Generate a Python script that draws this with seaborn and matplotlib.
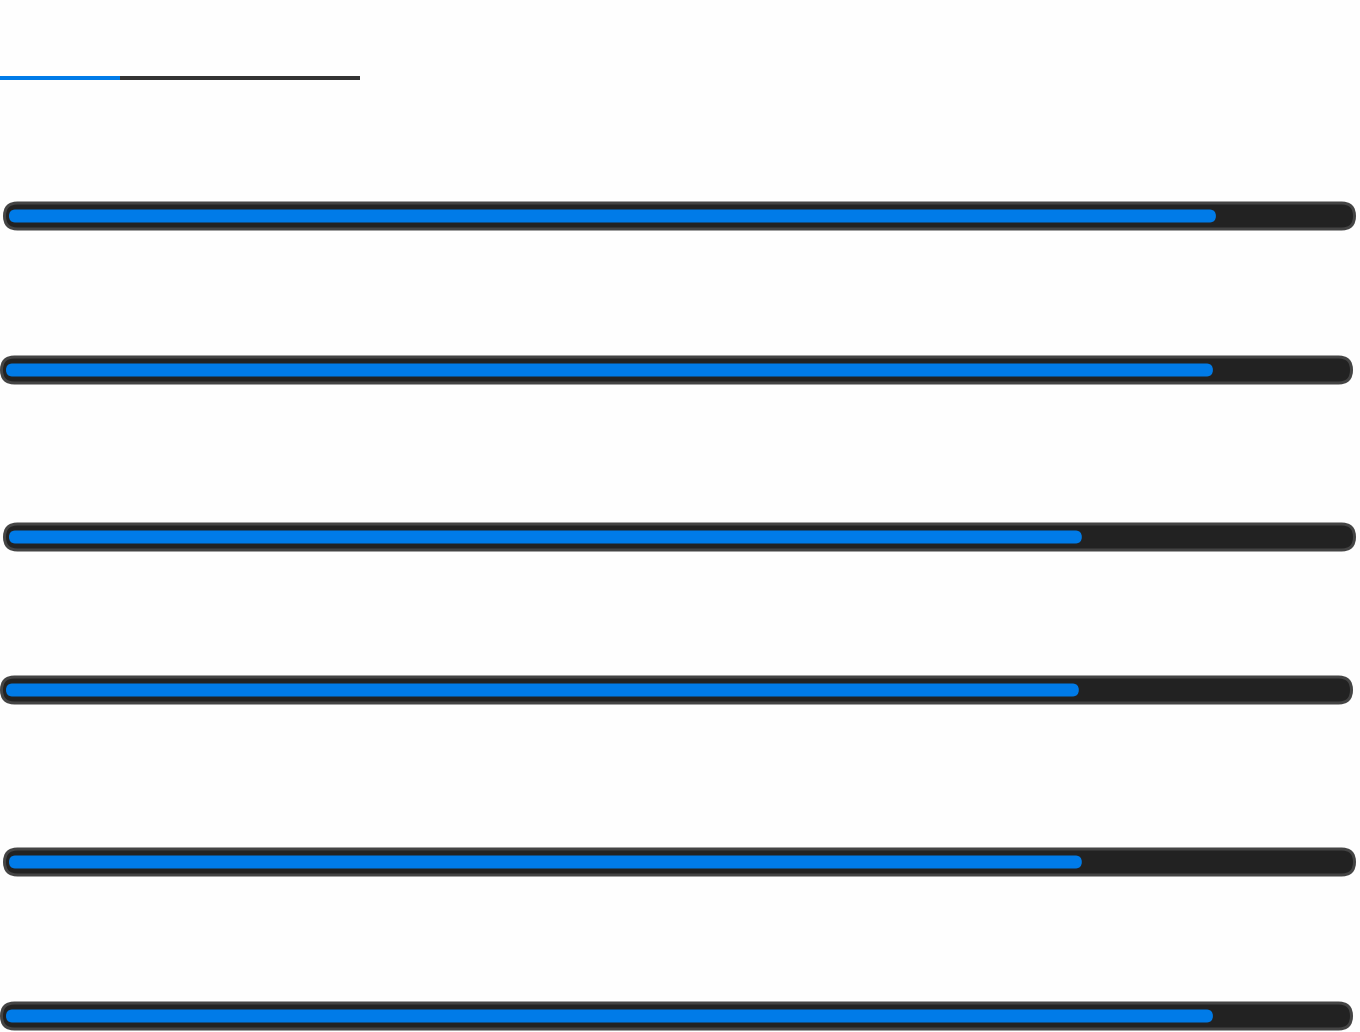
import matplotlib
matplotlib.use("Agg")
import pandas as pd
import matplotlib.pyplot as plt
import seaborn as sns
from matplotlib.patches import FancyBboxPatch
from matplotlib.lines import Line2D
from matplotlib.transforms import IdentityTransform

# skill levels (percent), top to bottom - the page shows no labels
levels = [90, 90, 80, 80, 80, 90]

# layout (pixels)
row_y = [216, 370, 537, 690, 862, 1016]   # bar centres from the top
row_shift = [3, 0, 3, 0, 3, 0]             # odd rows sit 3px to the right
W, H = 1360, 1032

BLUE = "#007be8"
TRACK = "#222222"
RING = "#444444"
BG = "#fefefe"

df = pd.DataFrame({"row": row_y, "level": levels})

sns.set_style("white")
fig = plt.figure(figsize=(W / 100, H / 100), dpi=100, facecolor=BG)
ax = fig.add_axes([6 / W, 0, 1341 / W, 1])
ax.set_facecolor(BG)

sns.barplot(data=df, x="level", y="row", orient="h", native_scale=True,
            width=13 / 153, color=BLUE, saturation=1, ax=ax)
ax.set_xlim(0, 100)
ax.set_ylim(H, 0)
ax.axis("off")

px = 72 / 100  # points per pixel
bars = sorted(ax.patches, key=lambda p: p.get_y())
for i, p in enumerate(bars):
    bb = p.get_window_extent()
    s = row_shift[i]
    cy = (bb.y0 + bb.y1) / 2
    x_lo = ax.transData.transform((0, 0))[0]
    x_hi = ax.transData.transform((100, 0))[0]
    # dark track with a grey ring, 6px wider than the fill on each side
    th = 29
    track = FancyBboxPatch((x_lo - 6 + 1.5 + s, cy - th / 2 + 1.5),
                           (x_hi - x_lo) + 12 - 3, th - 3,
                           boxstyle=f"round,pad=0,rounding_size={(th - 3) / 2}",
                           facecolor=TRACK, edgecolor=RING, linewidth=3 * px,
                           transform=IdentityTransform(), zorder=1, clip_on=False)
    ax.add_artist(track)
    # rounded blue fill on top
    fill = FancyBboxPatch((bb.x0 + s, bb.y0), bb.width, bb.height,
                          boxstyle=f"round,pad=0,rounding_size={bb.height / 2}",
                          facecolor=BLUE, edgecolor="none",
                          transform=IdentityTransform(), zorder=2, clip_on=False)
    ax.add_artist(fill)
    p.set_visible(False)

# heading underline
fig.add_artist(Line2D([120, 360], [H - 78, H - 78], color="#333333",
                      lw=4 * px, solid_capstyle="butt", transform=IdentityTransform()))
fig.add_artist(Line2D([0, 120], [H - 78, H - 78], color=BLUE,
                      lw=4 * px, solid_capstyle="butt", transform=IdentityTransform()))

fig.savefig("out.png", dpi=100, facecolor=BG)
